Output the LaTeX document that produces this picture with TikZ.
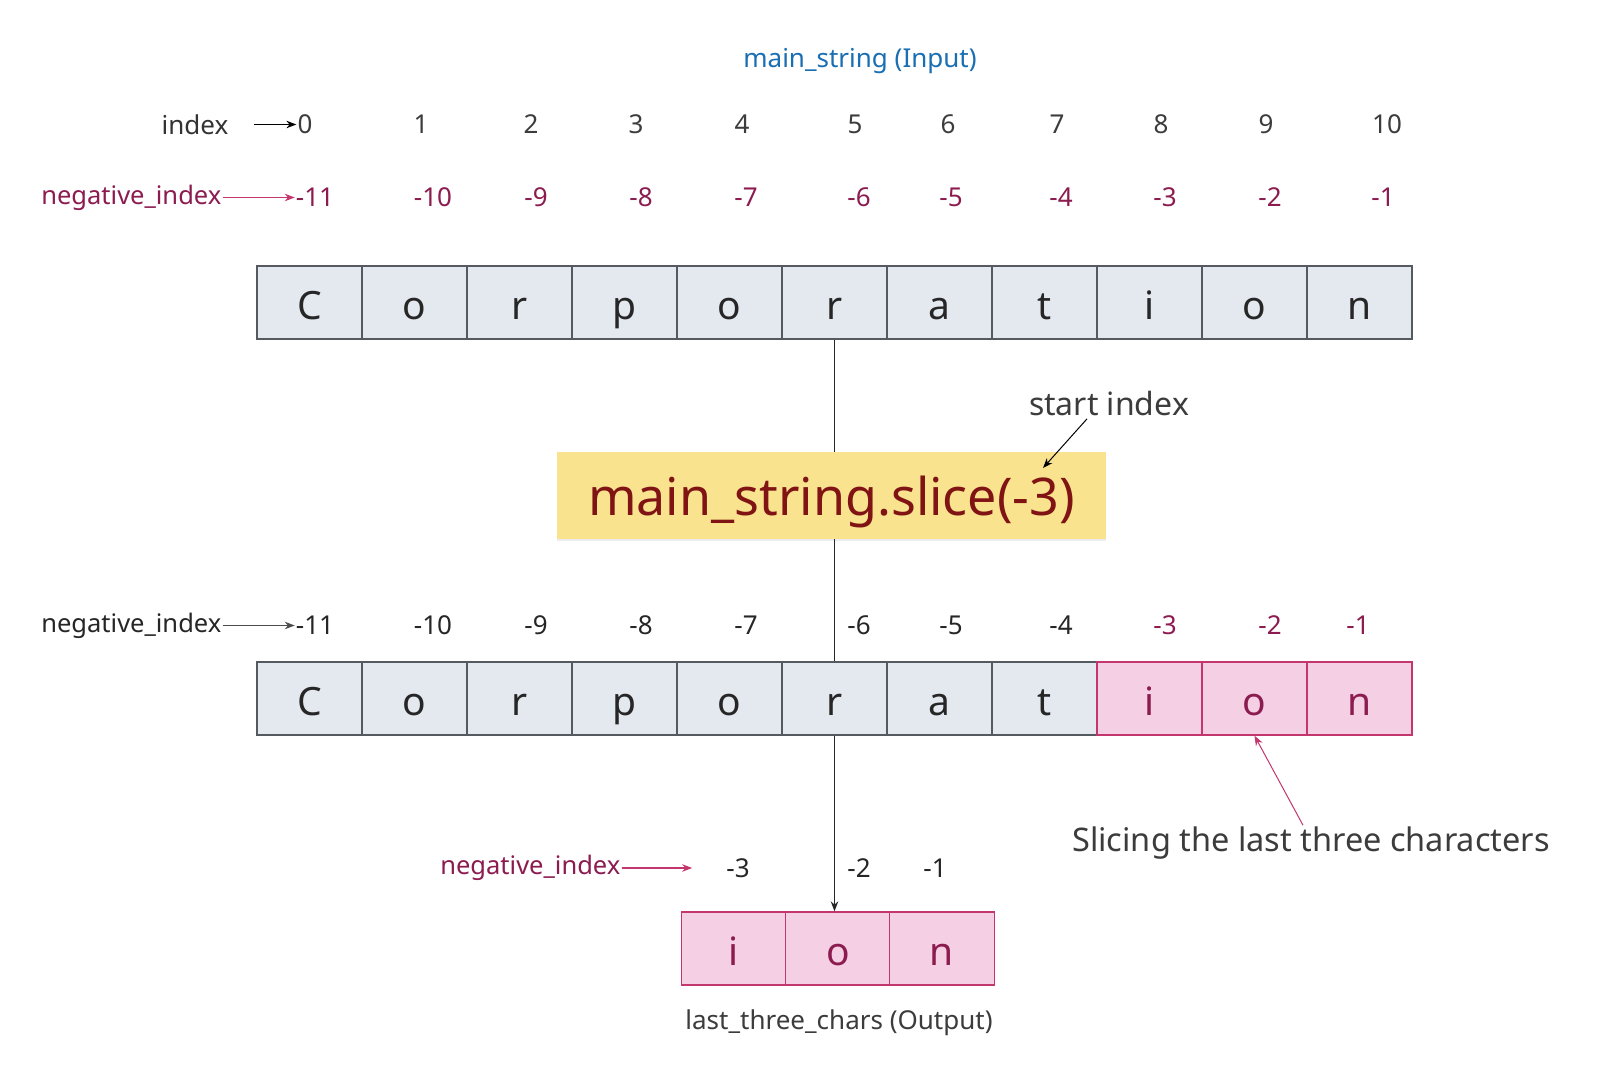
\documentclass[tikz,border=0pt]{standalone}
\usepackage{fontspec}
\setmainfont{Noto Sans}
\usepackage{tikz}
\usetikzlibrary{arrows.meta, positioning, calc, shadows}
\usepackage{xcolor}
\definecolor{inputblue}{RGB}{26,110,178}
\definecolor{negred}{RGB}{140,28,80}
\definecolor{negarrow}{RGB}{196,54,110}
\definecolor{cellgray}{RGB}{228,232,239}
\definecolor{cellline}{RGB}{85,90,96}
\definecolor{cellpink}{RGB}{245,208,228}
\definecolor{pinkline}{RGB}{196,54,110}
\definecolor{sliceyellow}{RGB}{249,227,142}
\definecolor{slicetext}{RGB}{128,20,20}
\definecolor{textgray}{RGB}{60,60,60}

\newcommand{\pxfont}[1]{\fontsize{#1}{#1}\selectfont}

\tikzset{
  graycell/.style={draw=cellline, fill=cellgray, line width=1.3pt, minimum width=105pt,
    minimum height=73pt, inner sep=0pt, text=black!85, font=\pxfont{39},
    text height=34pt, text depth=0pt},
  pinkcell/.style={graycell, draw=pinkline, fill=cellpink, text=negred},
  lbl/.style={font=\pxfont{26}, text=textgray, inner sep=1pt},
  neglbl/.style={font=\pxfont{26}, text=negred, inner sep=1pt},
  rowlbl/.style={font=\pxfont{25.5}, inner sep=1pt, anchor=east},
  tip/.style={-{Stealth[length=10pt, width=7.5pt]}, line width=1.3pt}
}

\begin{document}
\begin{tikzpicture}[x=1pt, y=-1pt]
  \useasboundingbox[fill=white] (0,0) rectangle (1600,1091);

  % --- input string ---
  \node[font=\pxfont{26}, text=inputblue] (title) at (860,61) {main\_string (Input)};

  % positive index row
  \node[lbl, text=black!80] (idx) at (195,124.5) {index};
  \foreach \x/\n [count=\i] in {305/0, 421/1, 531/2, 636/3, 742/4, 855/5, 948/6, 1057/7, 1161/8, 1266/9, 1387/10}
    \node[lbl] (p\i) at (\x,124.5) {\n};
  \draw[tip, black] ([xshift=24pt]idx.east) -- (p1.west);

  % negative index row (input)
  \node[rowlbl, text=negred] (neg) at (222.5,197.5) {negative\_index};
  \foreach \x/\n [count=\i] in {315/-11, 433/-10, 536/-9, 641/-8, 746/-7, 859/-6, 951/-5, 1061/-4, 1165/-3, 1270/-2, 1383/-1}
    \node[neglbl] (n\i) at (\x,197.5) {\n};
  \draw[tip, negarrow] (neg.east) -- (n1.west);

  % cells of main_string
  \foreach \ch [count=\i] in {C,o,r,p,o,r,a,t,i,o,n}
    \node[graycell] (t\i) at (257+52.5+105*\i-105, 302.5) {\ch};

  % --- slice call ---
  \node[fill=sliceyellow, minimum width=549pt, minimum height=87pt, inner sep=0pt,
    drop shadow={opacity=0.15, shadow xshift=0pt, shadow yshift=-2pt},
    font=\pxfont{52}, text=slicetext, text depth=0pt] (slice) at (831.5,495.5) {main\_string.slice(-3)};
  \node[font=\pxfont{32}, text=textgray] (start) at (1109,403) {start index};
  \coordinate (starttip) at (1043,468);
  \draw[tip, black, line width=1pt] ($(start.south)+(-22pt,0pt)$) -- (starttip);

  \draw[line width=1.3pt, black!85] (t6.south) -- (t6.south |- slice.north);

  % negative index row (after slicing)
  \node[rowlbl, text=black!85] (neg2) at (222.5,625.5) {negative\_index};
  \foreach \x/\n [count=\i] in {315/-11, 433/-10, 536/-9, 641/-8, 746/-7, 859/-6, 951/-5, 1061/-4}
    \node[lbl, text=black!85] (m\i) at (\x,625.5) {\n};
  \foreach \x/\n [count=\i from 9] in {1165/-3, 1270/-2, 1358/-1}
    \node[neglbl] (m\i) at (\x,625.5) {\n};
  \draw[tip, black!70] (neg2.east) -- (m1.west);

  \foreach \ch [count=\i] in {C,o,r,p,o,r,a,t,i,o,n}{
    \ifnum\i>8 \def\cellstyle{pinkcell}\else \def\cellstyle{graycell}\fi
    \node[\cellstyle] (b\i) at (257+52.5+105*\i-105, 698.5) {\ch};
  }
  \draw[line width=1.3pt, black!85] (slice.south -| b6) -- (b6.north);

  \node[font=\pxfont{32.5}, text=textgray] (slicing) at (1311,843) {Slicing the last three characters};
  \draw[tip, pinkline, line width=1pt] ($(slicing.north)+(-8pt,-2pt)$) -- (b10.south);

  % --- output ---
  \node[rowlbl, text=negred] (neg3) at (621.5,868) {negative\_index};
  \foreach \x/\n [count=\i] in {738/-3, 859/-2, 935/-1}
    \node[lbl, text=black!85] (q\i) at (\x,868) {\n};
  \draw[tip, negarrow] (neg3.east) -- ([xshift=-33pt]q1.west);

  \foreach \ch [count=\i] in {i,o,n}
    \node[pinkcell] (o\i) at (734+104*\i-104, 948.5) {\ch};
  \draw[tip, black!85] (b6.south) -- (b6.south |- o2.north);

  \node[font=\pxfont{26}, text=textgray] (output) at (839,1023) {last\_three\_chars (Output)};
\end{tikzpicture}
\end{document}
